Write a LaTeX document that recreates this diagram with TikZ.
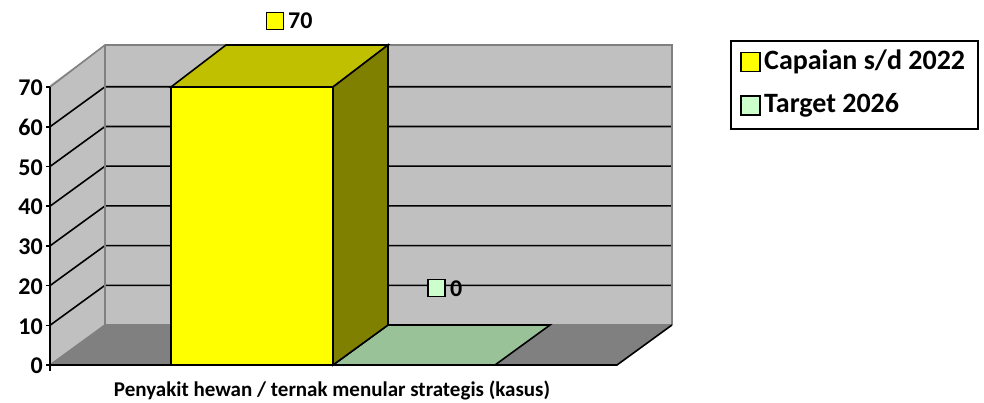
\documentclass[tikz,border=0pt]{standalone}
\usepackage{fontspec}
\setmainfont{Carlito}
\definecolor{wall}{HTML}{C0C0C0}
\definecolor{floorc}{HTML}{808080}
\definecolor{edgec}{HTML}{808080}
\definecolor{barfront}{HTML}{FFFF00}
\definecolor{bartop}{HTML}{C0C000}
\definecolor{barside}{HTML}{808000}
\definecolor{greenflat}{HTML}{99C299}
\definecolor{greenmark}{HTML}{CCFFCC}
\tikzset{
  outl/.style={draw=black,line width=1.6pt,line join=miter},
  grid/.style={draw=black,line width=1.6pt},
  greyedge/.style={draw=edgec,line width=1.6pt},
  axlab/.style={font=\fontsize{24}{27}\selectfont\bfseries,anchor=east,inner sep=0pt},
  datlab/.style={font=\fontsize{24}{27}\selectfont\bfseries,anchor=west,inner sep=0pt},
  leglab/.style={font=\fontsize{28}{32}\selectfont\bfseries,anchor=west,inner sep=0pt},
  marker/.style={draw=black,line width=1.5pt,minimum width=17pt,minimum height=17pt,inner sep=0pt},
}
\begin{document}
\begin{tikzpicture}[x=1pt,y=-1pt]
\useasboundingbox (0,0) rectangle (984,403);
% walls
\fill[wall] (50,365) -- (105,325) -- (105,45) -- (50,85) -- cycle;
\fill[wall] (105,45) rectangle (672,325);
\fill[floorc] (50,365) -- (617,365) -- (672,325) -- (105,325) -- cycle;
% gridlines
\foreach \v in {1,...,6}{
  \draw[grid] (50,{365-39.7*\v}) -- (105,{325-39.7*\v}) -- (672,{325-39.7*\v});
}
\draw[greyedge] (50,87) -- (105,45) -- (672,45) -- (672,325);
\draw[greyedge] (105,45) -- (105,325) -- (672,325);
\draw[greyedge] (50,365) -- (105,325);
% axes
\draw[grid] (50,87) -- (50,365) -- (617,365) -- (672,325);
\foreach \v in {0,...,7}{
  \draw[grid] (46,{365-39.7*\v}) -- (50,{365-39.7*\v});
  \node[axlab] (ax\v) at (43,{366-39.7*\v}) {\number\numexpr\v*10\relax};
}
\draw[grid] (50,365) -- (50,371);
% bar 2 (flat)
\draw[outl,fill=greenflat] (333,365) -- (388,325) -- (550,325) -- (495,365) -- cycle;
% bar 1
\draw[outl,fill=barfront] (171,365) rectangle (333,87);
\draw[outl,fill=bartop] (171,87) -- (226,45) -- (388,45) -- (333,87) -- cycle;
\draw[outl,fill=barside] (333,87) -- (388,45) -- (388,325) -- (333,365) -- cycle;
% data labels
\node[marker,fill=barfront] (m1) at (275,21) {};
\node[datlab] (d1) at (288,21) {70};
\node[marker,fill=greenmark] (m2) at (436.5,288) {};
\node[datlab] (d2) at (450,289) {0};
% category label
\node[font=\fontsize{21}{24}\selectfont\bfseries,inner sep=0pt] (cat) at (332,390) {Penyakit hewan / ternak menular strategis (kasus)};
% legend
\node[draw=black,line width=1.6pt,minimum width=247pt,minimum height=88pt,inner sep=0pt] (leg) at (854.5,85) {};
\node[marker,fill=barfront,minimum width=19pt,minimum height=19pt] (l1) at (750.5,62) {};
\node[leglab] (t1) at (764,62) {Capaian s/d 2022};
\node[marker,fill=greenmark,minimum width=19pt,minimum height=19pt] (l2) at (750.5,105.5) {};
\node[leglab] (t2) at (764,105.5) {Target 2026};
\end{tikzpicture}
\end{document}
